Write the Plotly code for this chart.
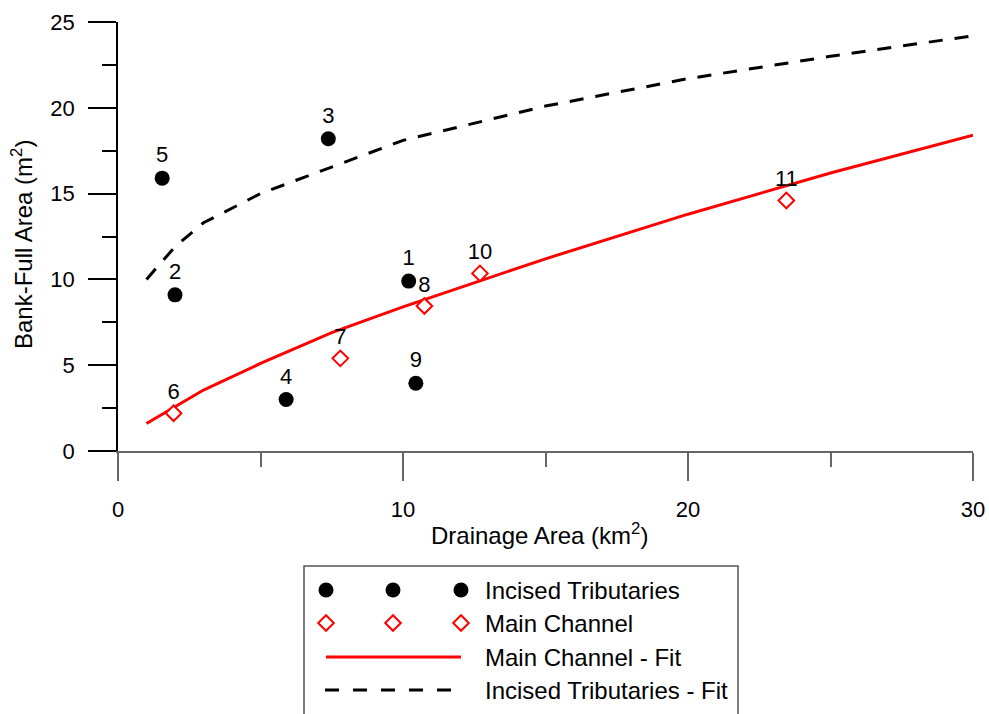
import plotly.graph_objects as go

# ---------------- data ----------------
trib_x = [10.2, 2.0, 7.38, 5.9, 1.55, 10.45]
trib_y = [9.9, 9.1, 18.2, 3.0, 15.9, 3.95]
trib_labels = ["1", "2", "3", "4", "5", "9"]

main_x = [1.95, 7.8, 10.75, 12.7, 23.45]
main_y = [2.2, 5.4, 8.45, 10.35, 14.6]
main_labels = ["6", "7", "8", "10", "11"]

main_fit_x = [1, 3, 5, 7.5, 10, 15, 20, 25, 30]
main_fit_y = [1.6, 3.55, 5.1, 6.9, 8.4, 11.2, 13.8, 16.2, 18.4]

trib_fit_x = [1, 2, 3, 5, 10, 15, 20, 25, 30]
trib_fit_y = [10.0, 11.9, 13.3, 15.0, 18.1, 20.1, 21.7, 23.0, 24.2]

x_ticks = [0, 10, 20, 30]
y_ticks = [0, 5, 10, 15, 20, 25]

legend_labels = ["Incised Tributaries", "Main Channel",
                 "Main Channel - Fit", "Incised Tributaries - Fit"]

FONT = "Arial, Liberation Sans, Helvetica, sans-serif"
FS = 22
FS_T = 24

W, H = 989, 714
ML, MR, MT, MB = 118, 16, 22, 0
PH = H - MT - MB
PW = W - ML - MR
y_bottom_px = 451
ydom0 = (H - y_bottom_px) / PH

fig = go.Figure()

# fits
fig.add_trace(go.Scatter(x=main_fit_x, y=main_fit_y, mode="lines",
                         line=dict(color="#ff0000", width=3), showlegend=False,
                         hoverinfo="skip"))
fig.add_trace(go.Scatter(x=trib_fit_x, y=trib_fit_y, mode="lines",
                         line=dict(color="black", width=3, dash="14px,12px"),
                         showlegend=False, hoverinfo="skip"))
# points
fig.add_trace(go.Scatter(x=trib_x, y=trib_y, mode="markers+text", text=trib_labels,
                         textposition="top center",
                         textfont=dict(family=FONT, size=FS, color="black"),
                         marker=dict(symbol="circle", size=15, color="black"),
                         showlegend=False))
fig.add_trace(go.Scatter(x=main_x, y=main_y, mode="markers+text", text=main_labels,
                         textposition="top center",
                         textfont=dict(family=FONT, size=FS, color="black"),
                         marker=dict(symbol="diamond", size=12, color="white",
                                     line=dict(color="#ff0000", width=2)),
                         showlegend=False))

# ---------------- custom legend (own axes) ----------------
lx0, lx1 = 304, 738
ltop = 566
leg_w = lx1 - lx0
leg_h = H - ltop
row_y = [24, 57, 91, 124]
sym_x = [22, 89, 157]
text_x = 179

fig.add_trace(go.Scatter(x=sym_x, y=[row_y[0]] * 3, mode="markers", xaxis="x2", yaxis="y2",
                         marker=dict(symbol="circle", size=15, color="black"),
                         showlegend=False, hoverinfo="skip"))
fig.add_trace(go.Scatter(x=sym_x, y=[row_y[1]] * 3, mode="markers", xaxis="x2", yaxis="y2",
                         marker=dict(symbol="diamond", size=12, color="white",
                                     line=dict(color="#ff0000", width=2)),
                         showlegend=False, hoverinfo="skip"))
fig.add_trace(go.Scatter(x=[sym_x[0], sym_x[-1]], y=[row_y[2]] * 2, mode="lines",
                         xaxis="x2", yaxis="y2",
                         line=dict(color="#ff0000", width=3), showlegend=False,
                         hoverinfo="skip"))
fig.add_trace(go.Scatter(x=[sym_x[0] - 1, sym_x[-1] - 8], y=[row_y[3]] * 2, mode="lines",
                         xaxis="x2", yaxis="y2",
                         line=dict(color="black", width=3, dash="14px,14px"),
                         showlegend=False, hoverinfo="skip"))

annotations = []
for lab, ry in zip(legend_labels, row_y):
    annotations.append(dict(x=text_x, y=ry, xref="x2", yref="y2", text=lab,
                            showarrow=False, xanchor="left", yanchor="middle",
                            font=dict(family=FONT, size=FS_T, color="black")))

# axis titles
annotations.append(dict(x=(539 - ML) / PW, y=(H - 534) / PH, xref="paper", yref="paper",
                        text="Drainage Area (km<sup>2</sup>)", showarrow=False,
                        xanchor="center", yanchor="middle",
                        font=dict(family=FONT, size=FS_T, color="black")))
annotations.append(dict(x=(22 - ML) / PW, y=(H - 245) / PH, xref="paper", yref="paper",
                        text="Bank-Full Area (m<sup>2</sup>)", showarrow=False,
                        textangle=-90, xanchor="center", yanchor="middle",
                        font=dict(family=FONT, size=FS_T, color="black")))

shapes = [dict(type="rect", xref="x2 domain", yref="y2 domain", x0=0, x1=1, y0=-0.1, y1=1,
               line=dict(color="#555555", width=1.5), fillcolor="rgba(0,0,0,0)")]

fig.update_layout(
    template="none",
    width=W, height=H,
    margin=dict(l=ML, r=MR, t=MT, b=MB, pad=0, autoexpand=False),
    paper_bgcolor="white", plot_bgcolor="white",
    font=dict(family=FONT, size=FS, color="black"),
    showlegend=False,
    annotations=annotations,
    shapes=shapes,
    xaxis=dict(range=[0, 30], domain=[0, 1], anchor="y", automargin=False,
               showline=True, linecolor="#666666", linewidth=1.5,
               ticks="outside", ticklen=28, tickwidth=1.5, tickcolor="#666666",
               tickvals=x_ticks, ticktext=[str(v) for v in x_ticks],
               minor=dict(ticks="outside", ticklen=14, dtick=5, tickwidth=1.5,
                          tickcolor="#666666", showgrid=False),
               showgrid=False, zeroline=False,
               tickfont=dict(family=FONT, size=FS, color="black"),
               ticklabelstandoff=10),
    yaxis=dict(range=[0, 25], domain=[ydom0, 1], anchor="x", automargin=False,
               showline=True, linecolor="black", linewidth=1.5,
               ticks="outside", ticklen=28, tickwidth=1.5, tickcolor="black",
               tickvals=y_ticks, ticktext=[str(v) for v in y_ticks],
               minor=dict(ticks="outside", ticklen=14, dtick=2.5, tickwidth=1.5,
                          tickcolor="black", showgrid=False),
               showgrid=False, zeroline=False,
               tickfont=dict(family=FONT, size=FS, color="black"),
               ticklabelstandoff=9),
    xaxis2=dict(domain=[(lx0 - ML) / PW, (lx1 - ML) / PW], range=[0, leg_w],
                anchor="y2", visible=False, fixedrange=True, automargin=False),
    yaxis2=dict(domain=[0, leg_h / PH], range=[leg_h, 0], anchor="x2",
                visible=False, fixedrange=True, automargin=False),
)

fig.write_html("out.html")
